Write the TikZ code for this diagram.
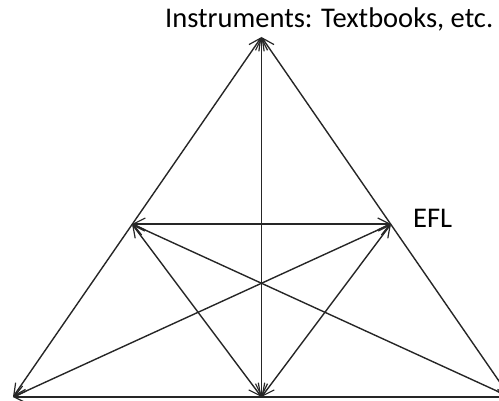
\documentclass[tikz,border=0pt]{standalone}
\usepackage{fontspec}
\setmainfont{Carlito}
\usetikzlibrary{arrows.meta}
\begin{document}
\begin{tikzpicture}[x=1pt,y=1pt,
  link/.style={draw=black!85,line width=1.4pt,{Straight Barb[length=12pt,width=12pt,line width=1.2pt]}-{Straight Barb[length=12pt,width=12pt,line width=1.2pt]}},
  lbl/.style={inner sep=0pt,anchor=base west,font=\fontsize{28.5}{30}\selectfont}]
\useasboundingbox (0,0) rectangle (499,400);
\coordinate (A) at (261.5,363);
\coordinate (BL) at (13,3);
\coordinate (BR) at (510,3);
\coordinate (BM) at (261.5,3);
\coordinate (LM) at (132,176);
\coordinate (RM) at (391,176);
\node[lbl] (top) at (165,372) {Instruments: Textbooks, etc.};
\node[lbl] (efl) at (413,173) {EFL};
\draw[link] (A) -- (BL);
\draw[link] (A) -- (BR);
\draw[link] (BL) -- (BR);
\draw[link] (A) -- (BM);
\draw[link] (LM) -- (RM);
\draw[link] (LM) -- (BM);
\draw[link] (RM) -- (BM);
\draw[link] (LM) -- (BR);
\draw[link] (RM) -- (BL);
\end{tikzpicture}
\end{document}
